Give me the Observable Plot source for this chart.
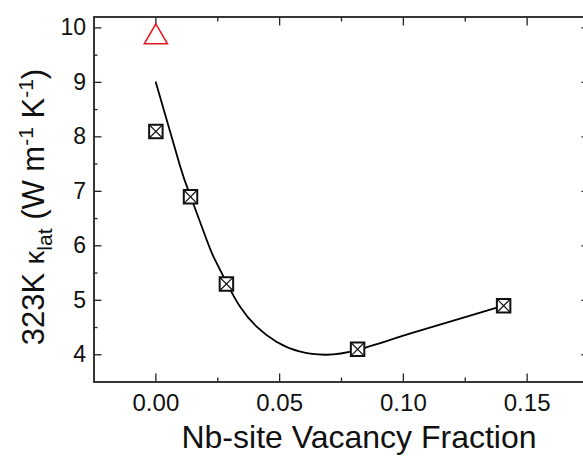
<!DOCTYPE html>
<html>
<head>
<meta charset="utf-8">
<script src="https://cdn.jsdelivr.net/npm/d3@7"></script>
<script src="https://cdn.jsdelivr.net/npm/@observablehq/plot@0.6"></script>
<style>
  html, body { margin: 0; padding: 0; background: #fff; overflow: hidden; }
  #chart { width: 583px; height: 456px; overflow: hidden; }
</style>
</head>
<body>
<div id="chart"></div>
<script>
// Measured samples (Nb-site vacancy fraction vs 323 K lattice thermal conductivity)
const vacancy = [0, 0.014, 0.0285, 0.0815, 0.1405];
const kappaLat = [8.1, 6.9, 5.3, 4.1, 4.9];

// Reference point (red triangle)
const refVacancy = [0];
const refKappa = [9.83];

// Fitted guide curve
const fitVacancy = [0, 0.0098, 0.0141, 0.0205, 0.0239, 0.0286, 0.0339, 0.0406, 0.0487, 0.058, 0.0688, 0.0815, 0.1036, 0.1405];
const fitKappa   = [9.0, 7.46, 6.9, 6.11, 5.74, 5.32, 4.89, 4.52, 4.24, 4.06, 4.0, 4.09, 4.40, 4.90];

// Ticks
const xTicks = [0, 0.05, 0.10, 0.15];
const xMinorTicks = [0.025, 0.075, 0.125];
const yTicks = [4, 5, 6, 7, 8, 9, 10];
const yMinorTicks = [4.5, 5.5, 6.5, 7.5, 8.5, 9.5];

const samples = vacancy.map((v, i) => ({x: v, y: kappaLat[i]}));
const refs = refVacancy.map((v, i) => ({x: v, y: refKappa[i]}));
const fit = fitVacancy.map((v, i) => ({x: v, y: fitKappa[i]}));

const font = "'Liberation Sans', Arial, sans-serif";
const axisColor = "#222";

const timesSymbol = {
  draw(ctx, size) {
    const s = Math.sqrt(size) / 2;
    ctx.moveTo(-s, -s); ctx.lineTo(s, s);
    ctx.moveTo(s, -s); ctx.lineTo(-s, s);
  }
};

const chart = Plot.plot({
  width: 583,
  height: 456,
  marginLeft: 93.5,
  marginRight: -5.5,
  marginTop: 16.5,
  marginBottom: 74.5,
  style: {fontFamily: font, color: "#111", background: "#fff"},
  x: {domain: [-0.025, 0.175]},
  y: {domain: [3.5, 10.2]},
  marks: [
    // inward ticks
    Plot.axisX(xTicks, {anchor: "bottom", tickSize: 8, dy: -8, fill: "none", label: null, stroke: axisColor, strokeWidth: 1.3}),
    Plot.axisX(xMinorTicks, {anchor: "bottom", tickSize: 4, dy: -4, fill: "none", label: null, stroke: axisColor, strokeWidth: 1.3}),
    Plot.axisX(xTicks, {anchor: "top", tickSize: 8, dy: 8, fill: "none", label: null, stroke: axisColor, strokeWidth: 1.3}),
    Plot.axisX(xMinorTicks, {anchor: "top", tickSize: 4, dy: 4, fill: "none", label: null, stroke: axisColor, strokeWidth: 1.3}),
    Plot.axisY(yTicks, {anchor: "left", tickSize: 8, dx: 8, fill: "none", label: null, stroke: axisColor, strokeWidth: 1.3}),
    Plot.axisY(yMinorTicks, {anchor: "left", tickSize: 4, dx: 4, fill: "none", label: null, stroke: axisColor, strokeWidth: 1.3}),
    Plot.axisY(yTicks, {anchor: "right", tickSize: 8, dx: -8, fill: "none", label: null, stroke: axisColor, strokeWidth: 1.3}),
    Plot.axisY(yMinorTicks, {anchor: "right", tickSize: 4, dx: -4, fill: "none", label: null, stroke: axisColor, strokeWidth: 1.3}),
    // tick labels
    Plot.axisX(xTicks, {anchor: "bottom", tickSize: 0, tickPadding: 12, tickFormat: d3.format(".2f"), fontSize: 24, fill: "#111", label: null}),
    Plot.axisY(yTicks, {anchor: "left", tickSize: 0, tickPadding: 8, tickFormat: d => String(d), fontSize: 23, fill: "#111", label: null}),
    Plot.frame({stroke: axisColor, strokeWidth: 1.8}),
    // fit curve
    Plot.line(fit, {x: "x", y: "y", curve: "natural", stroke: "#000", strokeWidth: 1.8}),
    // samples: square with X
    Plot.dot(samples, {x: "x", y: "y", symbol: "square", r: 7.6, stroke: "#111", strokeWidth: 2, fill: "#fff"}),
    Plot.dot(samples, {x: "x", y: "y", symbol: timesSymbol, r: 7.4, stroke: "#111", strokeWidth: 1.2}),
    // reference triangle
    Plot.dot(refs, {x: "x", y: "y", symbol: "triangle", r: 8.6, stroke: "#e3181f", strokeWidth: 1.5, fill: "none"})
  ]
});

const svg = d3.select(chart);

// x-axis title
svg.append("text")
  .attr("x", 359).attr("y", 448)
  .attr("text-anchor", "middle")
  .attr("font-family", font)
  .attr("font-size", 32)
  .attr("fill", "#111")
  .text("Nb-site Vacancy Fraction");

// y-axis title
const yt = svg.append("text")
  .attr("transform", "translate(44,207) rotate(-90)")
  .attr("text-anchor", "middle")
  .attr("font-family", font)
  .attr("font-size", 31)
  .attr("fill", "#111");
yt.append("tspan").text("323K ");
yt.append("tspan").attr("font-size", 27).text("κ");
yt.append("tspan").attr("font-size", 21).attr("dy", 8).text("lat");
yt.append("tspan").attr("dy", -8).text(" (W m");
yt.append("tspan").attr("font-size", 21).attr("dy", -11).text("-1");
yt.append("tspan").attr("dy", 11).text(" K");
yt.append("tspan").attr("font-size", 21).attr("dy", -11).text("-1");
yt.append("tspan").attr("dy", 11).text(")");

document.getElementById("chart").appendChild(chart);
</script>
</body>
</html>
